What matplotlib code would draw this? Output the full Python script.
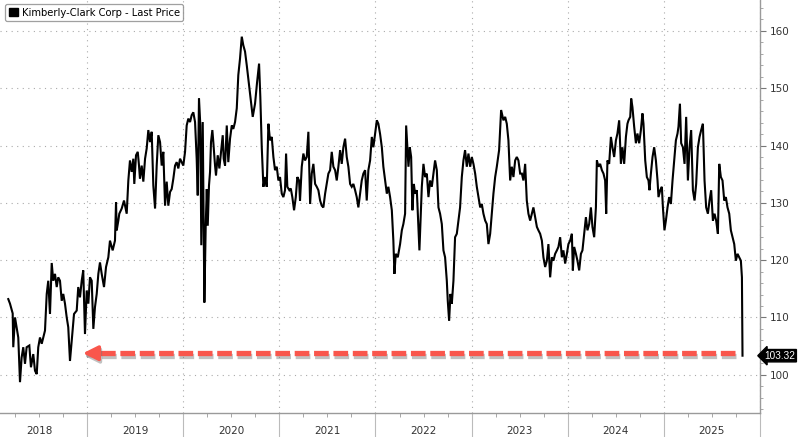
import matplotlib
matplotlib.use("Agg")
import matplotlib.pyplot as plt
import matplotlib.patheffects as pe
import matplotlib.transforms as mtransforms
from matplotlib.patches import Patch
import numpy as np

# ---- data (decimal year, price) ----
t = [2018.180, 2018.198, 2018.226, 2018.232, 2018.250, 2018.267, 2018.284, 2018.302, 2018.319, 2018.336,
     2018.354, 2018.371, 2018.399, 2018.416, 2018.440, 2018.458, 2018.476, 2018.492, 2018.510, 2018.528,
     2018.544, 2018.562, 2018.580, 2018.596, 2018.614, 2018.632, 2018.648, 2018.666, 2018.684, 2018.700,
     2018.718, 2018.736, 2018.752, 2018.770, 2018.788, 2018.804, 2018.822, 2018.840, 2018.864, 2018.892,
     2018.908, 2018.926, 2018.944, 2018.960, 2018.978, 2018.996, 2019.013, 2019.030, 2019.048, 2019.065,
     2019.082, 2019.100, 2019.117, 2019.134, 2019.152, 2019.176, 2019.197, 2019.221, 2019.238, 2019.266,
     2019.290, 2019.301, 2019.308, 2019.325, 2019.335, 2019.360, 2019.384, 2019.412, 2019.429, 2019.446,
     2019.464, 2019.481, 2019.491, 2019.509, 2019.527, 2019.540, 2019.550, 2019.568, 2019.585, 2019.603,
     2019.620, 2019.637, 2019.655, 2019.672, 2019.689, 2019.707, 2019.724, 2019.741, 2019.759, 2019.776,
     2019.793, 2019.811, 2019.828, 2019.845, 2019.863, 2019.880, 2019.897, 2019.915, 2019.932, 2019.949,
     2019.967, 2019.984, 2020.001, 2020.019, 2020.036, 2020.053, 2020.071, 2020.088, 2020.105, 2020.123,
     2020.140, 2020.151, 2020.164, 2020.178, 2020.188, 2020.203, 2020.220, 2020.234, 2020.245, 2020.255,
     2020.268, 2020.279, 2020.289, 2020.303, 2020.313, 2020.331, 2020.341, 2020.359, 2020.376, 2020.393,
     2020.411, 2020.421, 2020.435, 2020.453, 2020.469, 2020.487, 2020.505, 2020.521, 2020.539, 2020.557,
     2020.573, 2020.591, 2020.609, 2020.625, 2020.643, 2020.661, 2020.685, 2020.706, 2020.723, 2020.747,
     2020.768, 2020.789, 2020.802, 2020.817, 2020.834, 2020.851, 2020.869, 2020.886, 2020.903, 2020.921,
     2020.938, 2020.955, 2020.973, 2020.990, 2021.007, 2021.025, 2021.042, 2021.059, 2021.070, 2021.083,
     2021.104, 2021.119, 2021.135, 2021.153, 2021.171, 2021.187, 2021.205, 2021.215, 2021.233, 2021.250,
     2021.267, 2021.285, 2021.302, 2021.320, 2021.337, 2021.354, 2021.372, 2021.389, 2021.406, 2021.424,
     2021.441, 2021.458, 2021.476, 2021.493, 2021.510, 2021.528, 2021.545, 2021.562, 2021.580, 2021.597,
     2021.614, 2021.632, 2021.649, 2021.666, 2021.684, 2021.701, 2021.718, 2021.736, 2021.753, 2021.770,
     2021.788, 2021.805, 2021.822, 2021.840, 2021.857, 2021.874, 2021.892, 2021.909, 2021.926, 2021.944,
     2021.962, 2021.978, 2021.996, 2022.014, 2022.030, 2022.048, 2022.066, 2022.082, 2022.100, 2022.118,
     2022.134, 2022.152, 2022.170, 2022.186, 2022.197, 2022.211, 2022.232, 2022.256, 2022.274, 2022.290,
     2022.308, 2022.319, 2022.332, 2022.343, 2022.357, 2022.371, 2022.384, 2022.399, 2022.412, 2022.430,
     2022.457, 2022.482, 2022.499, 2022.516, 2022.534, 2022.551, 2022.568, 2022.586, 2022.603, 2022.620,
     2022.638, 2022.655, 2022.672, 2022.690, 2022.707, 2022.724, 2022.742, 2022.752, 2022.766, 2022.780,
     2022.794, 2022.811, 2022.828, 2022.846, 2022.863, 2022.880, 2022.898, 2022.915, 2022.932, 2022.950,
     2022.967, 2022.985, 2023.002, 2023.019, 2023.037, 2023.054, 2023.071, 2023.089, 2023.106, 2023.123,
     2023.141, 2023.158, 2023.175, 2023.193, 2023.210, 2023.227, 2023.245, 2023.262, 2023.286, 2023.307,
     2023.331, 2023.349, 2023.366, 2023.383, 2023.401, 2023.418, 2023.435, 2023.453, 2023.470, 2023.487,
     2023.505, 2023.523, 2023.539, 2023.557, 2023.574, 2023.591, 2023.609, 2023.627, 2023.643, 2023.661,
     2023.679, 2023.695, 2023.713, 2023.731, 2023.747, 2023.765, 2023.783, 2023.799, 2023.817, 2023.835,
     2023.851, 2023.869, 2023.887, 2023.903, 2023.921, 2023.939, 2023.955, 2023.973, 2023.991, 2024.007,
     2024.025, 2024.043, 2024.053, 2024.067, 2024.085, 2024.101, 2024.119, 2024.137, 2024.153, 2024.171,
     2024.189, 2024.205, 2024.223, 2024.241, 2024.257, 2024.275, 2024.293, 2024.303, 2024.320, 2024.337,
     2024.355, 2024.372, 2024.389, 2024.400, 2024.413, 2024.431, 2024.449, 2024.465, 2024.483, 2024.501,
     2024.517, 2024.535, 2024.553, 2024.569, 2024.587, 2024.605, 2024.621, 2024.632, 2024.650, 2024.660,
     2024.673, 2024.691, 2024.709, 2024.725, 2024.743, 2024.761, 2024.777, 2024.788, 2024.806, 2024.823,
     2024.840, 2024.850, 2024.865, 2024.882, 2024.899, 2024.917, 2024.934, 2024.944, 2024.962, 2024.979,
     2024.990, 2025.006, 2025.021, 2025.038, 2025.055, 2025.073, 2025.090, 2025.107, 2025.125, 2025.142,
     2025.152, 2025.167, 2025.180, 2025.198, 2025.215, 2025.232, 2025.250, 2025.267, 2025.284, 2025.302,
     2025.319, 2025.336, 2025.354, 2025.371, 2025.388, 2025.406, 2025.423, 2025.440, 2025.458, 2025.475,
     2025.492, 2025.510, 2025.527, 2025.544, 2025.562, 2025.576, 2025.593, 2025.610, 2025.628, 2025.645,
     2025.662, 2025.680, 2025.697, 2025.714, 2025.732, 2025.749, 2025.766, 2025.784, 2025.801, 2025.812,
     2025.818]
price = [113.2, 112.4, 110.7, 104.8, 110.0, 108.3, 106.5, 98.7, 103.0, 104.8,
         101.9, 104.8, 105.1, 101.3, 103.6, 100.7, 100.1, 104.8, 106.5, 105.4,
         106.5, 107.7, 114.1, 116.4, 110.6, 119.5, 116.4, 117.6, 115.3, 117.0,
         116.4, 112.9, 114.1, 112.4, 110.0, 108.3, 102.4, 105.9, 110.6, 111.2,
         115.3, 113.5, 116.4, 118.2, 107.1, 114.7, 112.4, 117.0, 116.4, 108.0,
         111.8, 114.1, 117.6, 119.6, 117.6, 115.3, 118.8, 120.5, 123.4, 121.7,
         123.4, 130.1, 125.2, 126.9, 128.1, 129.0, 130.4, 128.1, 133.9, 137.4,
         135.4, 137.7, 133.3, 138.3, 138.9, 136.5, 134.2, 136.5, 133.7, 137.7,
         139.5, 142.7, 140.6, 142.4, 133.0, 129.0, 136.5, 141.8, 140.6, 136.5,
         138.9, 129.5, 133.7, 129.5, 131.9, 132.4, 134.2, 136.5, 137.1, 136.0,
         137.7, 137.1, 136.5, 138.9, 143.5, 144.7, 144.1, 145.3, 145.8, 144.1,
         137.7, 131.3, 148.2, 143.5, 122.6, 144.1, 112.6, 126.0, 132.4, 126.0,
         133.0, 135.4, 140.6, 142.7, 140.6, 136.5, 134.8, 138.3, 136.0, 138.9,
         141.8, 137.7, 136.5, 143.5, 137.1, 141.2, 143.5, 142.9, 144.1, 146.5,
         152.3, 155.2, 159.0, 157.5, 156.4, 154.0, 150.5, 147.6, 145.0, 147.3,
         151.0, 154.3, 148.5, 139.7, 132.8, 134.5, 132.8, 143.8, 140.9, 141.5,
         138.0, 135.7, 136.3, 133.9, 134.5, 131.6, 131.0, 132.2, 138.6, 132.8,
         132.2, 132.5, 131.0, 128.7, 131.0, 134.5, 133.9, 130.4, 136.3, 138.6,
         137.4, 138.0, 142.4, 129.8, 135.1, 136.8, 133.3, 132.8, 132.2, 130.4,
         129.5, 129.2, 131.6, 133.3, 135.1, 135.7, 138.9, 136.3, 135.7, 133.9,
         136.3, 139.2, 136.8, 139.7, 141.2, 138.0, 136.3, 133.3, 132.8, 133.3,
         132.2, 131.0, 129.2, 131.6, 133.9, 135.1, 135.7, 130.4, 135.7, 137.4,
         141.5, 139.7, 142.1, 144.4, 143.8, 142.0, 139.7, 136.3, 133.9, 131.6,
         132.8, 131.0, 128.7, 123.4, 117.6, 121.1, 120.5, 122.8, 125.2, 126.3,
         128.1, 143.5, 139.7, 136.3, 139.7, 138.0, 128.7, 133.3, 131.6, 132.2,
         121.7, 132.8, 136.8, 134.5, 135.1, 131.0, 133.9, 132.8, 135.1, 137.4,
         135.7, 129.2, 128.1, 126.3, 121.7, 120.5, 116.4, 112.9, 109.4, 114.1,
         112.4, 116.4, 124.0, 124.6, 126.9, 129.2, 134.5, 137.4, 139.2, 136.3,
         138.6, 136.3, 138.0, 136.8, 135.1, 132.8, 131.0, 129.2, 129.8, 128.1,
         126.9, 126.3, 122.8, 124.6, 128.1, 131.6, 134.5, 136.3, 139.2, 146.2,
         144.4, 145.0, 143.8, 140.9, 133.9, 136.3, 134.5, 137.4, 138.0, 137.4,
         135.1, 135.1, 133.9, 136.8, 130.4, 128.1, 126.9, 128.1, 129.2, 127.5,
         125.8, 125.2, 124.6, 123.4, 120.5, 118.8, 119.9, 122.8, 117.0, 120.5,
         119.9, 121.1, 121.7, 122.3, 124.0, 120.5, 121.7, 119.4, 121.1, 122.8,
         123.4, 124.6, 118.2, 122.3, 121.1, 119.9, 118.2, 121.1, 121.7, 124.6,
         127.5, 125.2, 126.3, 129.2, 125.8, 124.0, 129.2, 137.4, 136.3, 136.8,
         135.7, 135.1, 133.9, 128.1, 137.4, 136.8, 141.5, 139.7, 138.0, 140.9,
         142.1, 144.4, 136.8, 139.7, 136.8, 141.5, 143.8, 144.4, 145.0, 148.2,
         146.7, 143.3, 140.4, 142.1, 140.4, 142.7, 145.6, 143.8, 137.4, 134.5,
         133.9, 132.2, 135.1, 138.0, 139.7, 137.4, 133.9, 131.0, 132.2, 132.8,
         129.2, 125.2, 126.9, 129.2, 131.0, 129.8, 133.9, 137.4, 140.9, 142.1,
         143.3, 147.3, 140.4, 139.7, 136.8, 145.0, 133.9, 139.7, 142.7, 132.2,
         130.4, 133.3, 139.7, 141.5, 142.7, 143.8, 133.9, 129.2, 128.1, 130.4,
         132.2, 126.9, 128.1, 126.9, 124.6, 136.8, 134.5, 133.9, 130.4, 131.0,
         129.2, 128.1, 125.2, 124.0, 122.8, 119.9, 121.1, 120.5, 119.9, 117.0,
         103.32]

years = [2018, 2019, 2020, 2021, 2022, 2023, 2024, 2025]
y_ticks = [100, 110, 120, 130, 140, 150, 160]
last_label = "103.32"
series_name = "Kimberly-Clark Corp - Last Price"
arrow_level = 103.75
arrow_start, arrow_end = 2025.742, 2018.957

# ---- figure ----
fig = plt.figure(figsize=(8.0, 4.37), dpi=100)
ax = fig.add_axes([0.0, 0.0556, 0.95, 0.9444])
ax.set_xlim(2018.094, 2026.0)
ax.set_ylim(93.37, 165.4)

ax.plot(t, price, color="black", lw=1.5, solid_joinstyle="miter", zorder=3)

# axes styling
for s in ["left", "top"]:
    ax.spines[s].set_visible(False)
for s in ["right", "bottom"]:
    ax.spines[s].set_color("#9a9a9a")
    ax.spines[s].set_linewidth(1.0)

ax.yaxis.tick_right()
ax.set_yticks(y_ticks)
ax.set_yticklabels([str(v) for v in y_ticks])
ax.set_yticks(np.arange(94, 166, 2), minor=True)
ax.tick_params(axis="y", which="major", length=4, width=0.8, color="#777777",
               labelsize=7.5, pad=3, labelcolor="#333333")
ax.tick_params(axis="y", which="minor", length=2, width=0.6, color="#999999")

ax.set_xticks(years[1:] + [2026])
ax.set_xticklabels([])
ax.set_xticks(np.arange(2018.25, 2026, 0.25), minor=True)
ax.tick_params(axis="x", which="major", length=18, width=0.8, color="#bbbbbb")
ax.tick_params(axis="x", which="minor", length=3, width=0.6, color="#999999")

for yr in years:
    ax.text(yr + 0.5, -0.045, str(yr), transform=ax.get_xaxis_transform(),
            ha="center", va="center", fontsize=7.5, color="#333333")

ax.grid(axis="y", which="major", linestyle=(0, (1, 4)), color="#aaaaaa", lw=0.8)
ax.grid(axis="x", which="major", linestyle=(0, (1, 4)), color="#aaaaaa", lw=0.8)

# legend
handle = Patch(facecolor="black", edgecolor="black")
leg = ax.legend([handle], [series_name], loc="upper left", bbox_to_anchor=(0.004, 0.995),
                fontsize=7.2, frameon=True, fancybox=True, handlelength=0.9, handleheight=0.9,
                handletextpad=0.4, borderpad=0.35, borderaxespad=0.2)
leg.get_frame().set_edgecolor("#888888")
leg.get_frame().set_linewidth(0.9)

# red dashed arrow
red = "#f9564c"
shadow = [pe.SimpleLineShadow(offset=(0.8, -1.8), shadow_color="#777777", alpha=0.45), pe.Normal()]
ax.plot([arrow_start, arrow_end + 0.10], [arrow_level, arrow_level], color=red, lw=3.8,
        dashes=(2.78, 0.89), dash_capstyle="butt",
        path_effects=shadow, zorder=4)
ax.annotate("", xy=(arrow_end, arrow_level), xytext=(arrow_end + 0.16, arrow_level),
            arrowprops=dict(arrowstyle="-|>,head_length=0.9,head_width=0.45", color=red, lw=2.5,
                            shrinkA=0, shrinkB=0,
                            path_effects=[pe.SimpleLineShadow(offset=(0.8, -1.8), shadow_color="#777777",
                                                               alpha=0.45), pe.Normal()]),
            zorder=5)

# last price label
trans = mtransforms.blended_transform_factory(fig.transFigure, ax.transData)
ax.text(0.994, price[-1], last_label, transform=trans, ha="right", va="center",
        fontsize=7.2, color="white", family="Liberation Sans", clip_on=False,
        bbox=dict(boxstyle="larrow,pad=0.12", fc="black", ec="black"))

fig.savefig("out.png", dpi=100)
